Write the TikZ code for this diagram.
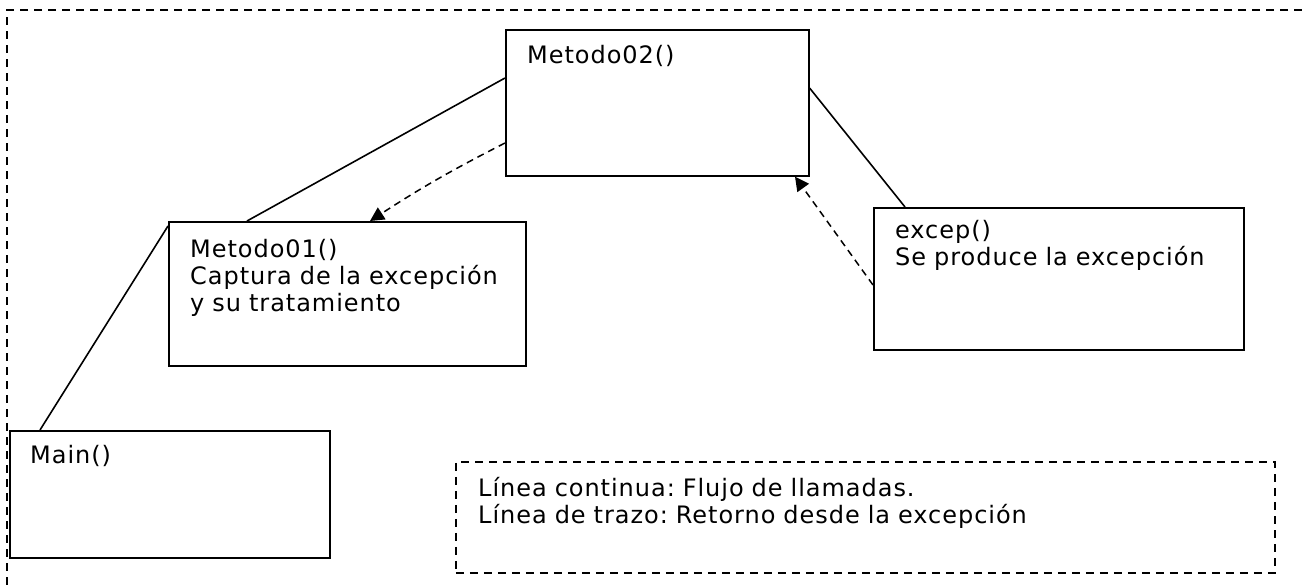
\documentclass[tikz,border=0pt]{standalone}
\usepackage{fontspec}
\setmainfont[LetterSpace=4]{DejaVu Sans}
\frenchspacing
\usetikzlibrary{arrows.meta}

\begin{document}
\begin{tikzpicture}[x=1pt, y=-1pt,
    caja/.style={rectangle, draw, line width=1.6pt, anchor=north west, inner sep=0pt},
    texto/.style={anchor=base west, inner sep=0pt, text width=720pt, align=left, font=\fontsize{24}{27}\selectfont},
    llamada/.style={line width=1.6pt},
    retorno/.style={line width=1.5pt, dash pattern=on 7pt off 5pt, -{Triangle[width=14pt,length=14pt]}}]
  \useasboundingbox (0,0) rectangle (1302,587);

  % marco exterior
  \draw [line width=1.6pt, dash pattern=on 8pt off 6pt] (1302,10) -- (7,10) -- (7,587);

  \begin{scope}
    \node [caja, minimum width=303pt, minimum height=146pt] (m2) at (505,29) {};
    \node [caja, minimum width=357pt, minimum height=144pt] (m1) at (168,221) {};
    \node [caja, minimum width=370pt, minimum height=142pt] (ex) at (873,207) {};
    \node [caja, minimum width=320pt, minimum height=127pt] (mn) at (9,430) {};
    \node [caja, dash pattern=on 8pt off 6pt, minimum width=819pt, minimum height=111pt] (ley) at (455,461) {};
  \end{scope}

  \begin{scope}
    \node [texto] (m2t) at ([shift={(22,34)}]m2.north west) {Metodo02()};
    \node [texto] (m1t) at ([shift={(22,36)}]m1.north west) {Metodo01()\\Captura de la excepción\\y su tratamiento};
    \node [texto] (ext) at ([shift={(22,31)}]ex.north west) {excep()\\Se produce la excepción};
    \node [texto] (mnt) at ([shift={(21,33)}]mn.north west) {Main()};
    \node [texto] (leyt) at ([shift={(23,35)}]ley.north west) {Línea continua: Flujo de llamadas.\\Línea de trazo: Retorno desde la excepción};
  \end{scope}

  \begin{scope}[llamada]
    \draw ([shift={(0,49)}]m2.north west) -- ([shift={(79,0)}]m1.north west);
    \draw ([shift={(0,5)}]m1.north west) -- ([shift={(31,0)}]mn.north west);
    \draw ([shift={(0,59)}]m2.north east) -- ([shift={(32,0)}]ex.north west);
  \end{scope}

  \begin{scope}[retorno]
    \draw ([shift={(0,114)}]m2.north west) to [bend right=3] ([shift={(202,0)}]m1.north west);
    \draw ([shift={(0,78)}]ex.north west) -- ([shift={(290,0)}]m2.south west);
  \end{scope}
\end{tikzpicture}
\end{document}
